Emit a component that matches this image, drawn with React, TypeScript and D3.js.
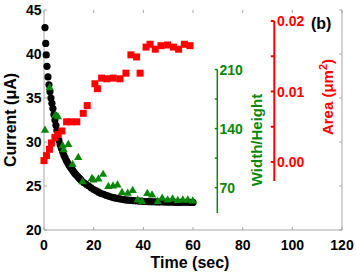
import * as d3 from 'd3';

// black circles: current (uA) vs time (sec)
const currentTime = [0.4, 0.7, 0.9, 1.2, 1.6, 2.0, 2.4, 2.8, 3.2, 3.6, 4.0, 4.4, 4.8, 5.2, 5.6, 6.0, 6.5, 7.0, 7.5, 8.0, 8.5, 9.0, 9.5, 10, 10.5, 11, 11.5, 12, 12.5, 13, 13.5, 14, 14.5, 15, 16, 17, 18, 19, 20, 21, 22, 23, 24, 25, 26, 27, 28, 29, 30, 31, 32, 33, 34, 35, 36, 37, 38, 39, 40, 41, 42, 43, 44, 45, 46, 47, 48, 49, 50, 51, 52, 53, 54, 55, 56, 57, 58, 59, 60];
const currentValue = [43.0, 41.2, 39.9, 38.6, 37.4, 36.5, 35.7, 35.0, 34.4, 33.8, 33.1, 32.5, 31.9, 31.3, 30.7, 30.2, 29.7, 29.3, 28.9, 28.5, 28.2, 27.9, 27.65, 27.4, 27.2, 27.0, 26.8, 26.6, 26.4, 26.25, 26.1, 25.95, 25.8, 25.65, 25.4, 25.2, 25.0, 24.8, 24.6, 24.45, 24.3, 24.15, 24.05, 23.95, 23.85, 23.75, 23.68, 23.62, 23.56, 23.5, 23.46, 23.42, 23.39, 23.36, 23.33, 23.31, 23.29, 23.27, 23.25, 23.24, 23.23, 23.22, 23.21, 23.2, 23.19, 23.18, 23.18, 23.17, 23.17, 23.16, 23.16, 23.15, 23.15, 23.15, 23.14, 23.14, 23.14, 23.13, 23.13];

// green triangles: width/height ratio
const ratioTime = [0.4, 2.3, 4.6, 5.6, 7.5, 7.9, 9.8, 11.5, 13.8, 15.5, 19.3, 19.9, 21.9, 23.8, 25.9, 27.8, 29.6, 31.4, 33.7, 35.7, 37.7, 39.5, 41.6, 43.5, 45.8, 47.6, 49.8, 51.8, 53.9, 55.9, 57.9, 59.9];
const ratioValue = [137.9, 188.3, 155.6, 153.9, 119.5, 114.7, 121.2, 97.5, 105.8, 76.8, 80.9, 79.1, 80.3, 85.7, 71.4, 72.0, 73.2, 64.3, 63.4, 66.7, 55.4, 53.6, 63.1, 61.3, 53.6, 57.4, 55.4, 56.6, 54.8, 55.4, 55.4, 54.2];

// red squares: area (um^2)
const areaTime = [0, 1.0, 2.2, 3.0, 4.4, 5.6, 7.2, 9.1, 10.9, 13.2, 15.8, 17.4, 20.5, 21.5, 23.2, 25.3, 27.9, 30.6, 33.0, 35.0, 37.3, 38.7, 41.1, 42.7, 44.8, 47.1, 49.8, 52.1, 54.2, 56.5, 58.8];
const areaValue = [0.0002, 0.0009, 0.0018, 0.0027, 0.0035, 0.0039, 0.0044, 0.0057, 0.0057, 0.0057, 0.0069, 0.0080, 0.0111, 0.0104, 0.0119, 0.0118, 0.0119, 0.0118, 0.0126, 0.0152, 0.0149, 0.0126, 0.0163, 0.0167, 0.0160, 0.0165, 0.0166, 0.0163, 0.0160, 0.0167, 0.0165];

const timeTicks = [0, 20, 40, 60, 80, 100, 120];
const currentTicks = [20, 25, 30, 35, 40, 45];
const ratioTicks = [70, 105, 140, 175, 210];
const ratioLabels = [70, 140, 210];
const areaTicks = [0, 0.005, 0.01, 0.015, 0.02];
const areaLabels = [0, 0.01, 0.02];

const W = 356;
const H = 273;
const GRAY = '#a8a8a8';
const GREEN = '#0a870a';
const RED = '#ff0000';
const FONT = '"Liberation Sans", Arial, sans-serif';

export default function App() {
  const x = d3.scaleLinear().domain([0, 120]).range([44, 342]);
  const y = d3.scaleLinear().domain([20, 45]).range([230, 10]);
  const yRatio = d3.scaleLinear().domain([70, 210]).range([187.7, 69.5]);
  const yArea = d3.scaleLinear().domain([0, 0.02]).range([162, 21]);
  const ratioAxisX = 217.3;
  const areaAxisX = 274.3;

  const tri = d3.symbol(d3.symbolTriangle, 30)();
  const sq = 7;

  return (
    <svg width={W} height={H} style={{ position: 'absolute', left: 0, top: 0, background: '#fff' }} fontFamily={FONT}>
      {/* frame */}
      <line x1={x(0)} x2={x(0)} y1={y(45)} y2={y(20)} stroke={GRAY} strokeWidth={1} />
      <line x1={x(0)} x2={x(120)} y1={y(20)} y2={y(20)} stroke={GRAY} strokeWidth={1} />
      <line x1={x(120)} x2={x(120)} y1={y(45)} y2={y(20)} stroke={GRAY} strokeWidth={1} />
      {timeTicks.map(t => (
        <g key={'xt' + t}>
          <line x1={x(t)} x2={x(t)} y1={y(20)} y2={y(20) - 3} stroke={GRAY} />
          <line x1={x(t)} x2={x(t)} y1={y(45)} y2={y(45) + 3} stroke={GRAY} />
          <text x={x(t)} y={250} textAnchor="middle" fontSize={14} fontWeight="bold" fill="#000">{t}</text>
        </g>
      ))}
      {currentTicks.map(v => (
        <g key={'yt' + v}>
          <line x1={x(0)} x2={x(0) + 3} y1={y(v)} y2={y(v)} stroke={GRAY} />
          <line x1={x(120)} x2={x(120) - 3} y1={y(v)} y2={y(v)} stroke={GRAY} />
          <text x={41.5} y={y(v)} dy="0.36em" textAnchor="end" fontSize={14} fontWeight="bold" fill="#000">{v}</text>
        </g>
      ))}
      <text x={190} y={267.5} textAnchor="middle" fontSize={16} fontWeight="bold" fill="#000">Time (sec)</text>
      <text transform="translate(15.5,120) rotate(-90)" textAnchor="middle" fontSize={16} fontWeight="bold" fill="#000">Current (μA)</text>

      {/* width/height axis */}
      <line x1={ratioAxisX} x2={ratioAxisX} y1={yRatio(210)} y2={yRatio(40)} stroke={GREEN} strokeWidth={1.5} />
      {ratioTicks.map(v => (
        <line key={'rt' + v} x1={ratioAxisX - 2.5} x2={ratioAxisX} y1={yRatio(v)} y2={yRatio(v)} stroke={GREEN} strokeWidth={1.5} />
      ))}
      {ratioLabels.map(v => (
        <text key={'rl' + v} x={219.5} y={yRatio(v)} dy="0.36em" fontSize={14} fontWeight="bold" fill={GREEN}>{v}</text>
      ))}
      <text transform="translate(262,140) rotate(-90)" textAnchor="middle" fontSize={15} fontWeight="bold" fill={GREEN}>Width/Height</text>

      {/* area axis */}
      <line x1={areaAxisX} x2={areaAxisX} y1={yArea(0.02)} y2={yArea(-0.0027)} stroke={RED} strokeWidth={2} />
      {areaTicks.map(v => (
        <line key={'at' + v} x1={areaAxisX - 3.5} x2={areaAxisX} y1={yArea(v)} y2={yArea(v)} stroke={RED} strokeWidth={2} />
      ))}
      {areaLabels.map(v => (
        <text key={'al' + v} x={277} y={yArea(v)} dy="0.36em" fontSize={14} fontWeight="bold" fill={RED}>{d3.format('.2f')(v)}</text>
      ))}
      <text transform="translate(333,97) rotate(-90)" textAnchor="middle" fontSize={15} fontWeight="bold" fill={RED}>
        Area (μm<tspan dy="-6" fontSize={11}>2</tspan><tspan dy="6">)</tspan>
      </text>
      <text x={311} y={29} fontSize={16} fontWeight="bold" fill="#000">(b)</text>

      {/* data */}
      {currentTime.map((t, i) => (
        <circle key={'c' + i} cx={x(t)} cy={y(currentValue[i])} r={3.6} fill="#000" />
      ))}
      {ratioTime.map((t, i) => (
        <path key={'g' + i} d={tri!} transform={`translate(${x(t)},${yRatio(ratioValue[i])})`} fill={GREEN} />
      ))}
      {areaTime.map((t, i) => (
        <rect key={'a' + i} x={x(t) - sq / 2} y={yArea(areaValue[i]) - sq / 2} width={sq} height={sq} fill={RED} />
      ))}
    </svg>
  );
}
